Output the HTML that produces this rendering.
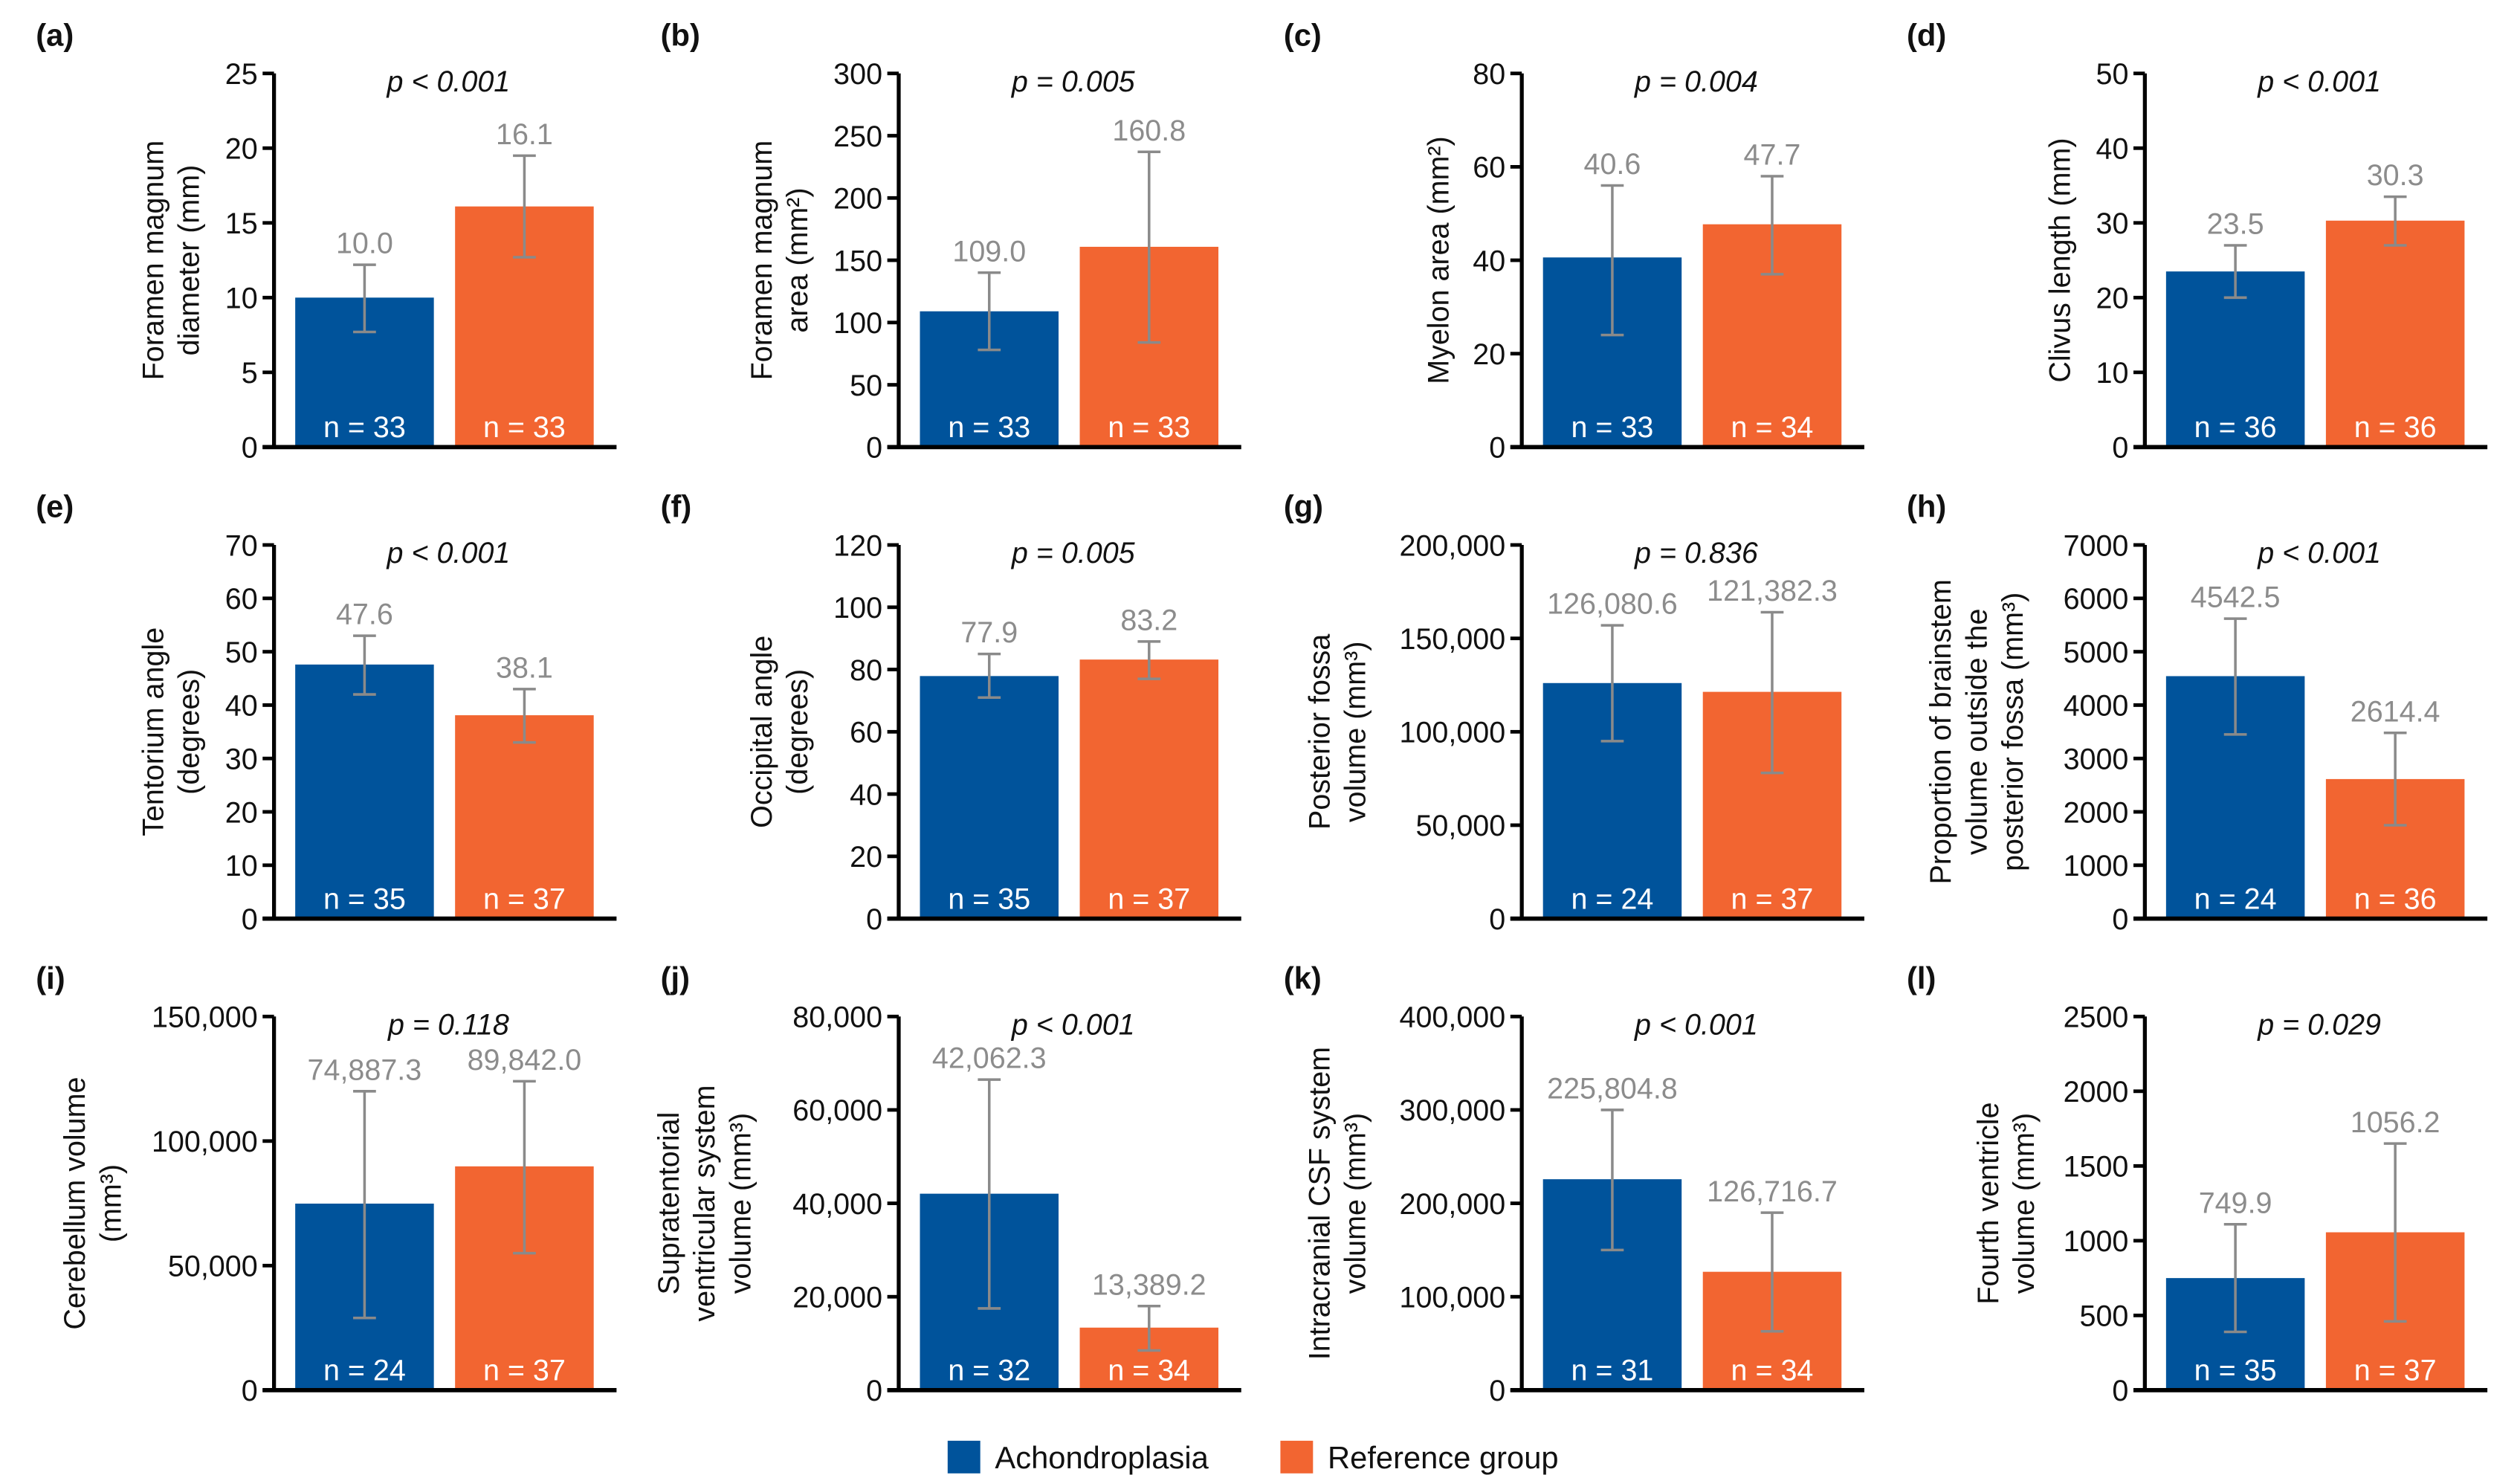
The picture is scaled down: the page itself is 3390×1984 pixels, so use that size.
<!DOCTYPE html>
<html><head><meta charset="utf-8">
<style>
html,body{margin:0;padding:0;background:#fff;}
svg{display:block;font-family:"Liberation Sans",Arial,sans-serif;}
</style></head>
<body>
<svg id="chart" width="3390" height="1984" viewBox="0 0 1545 904" preserveAspectRatio="none" xmlns="http://www.w3.org/2000/svg">
<rect x="0" y="0" width="1545" height="904" fill="#fff"/>
</svg>
<script>
const panelIds = ["a","b","c","d","e","f","g","h","i","j","k","l"];
const achValues = [10.0,109.0,40.6,23.5,47.6,77.9,126080.6,4542.5,74887.3,42062.3,225804.8,749.9];
const refValues = [16.1,160.8,47.7,30.3,38.1,83.2,121382.3,2614.4,89842.0,13389.2,126716.7,1056.2];
const achLow  = [7.7,78,24,20,42,71,95000,3450,29000,17500,150000,390];
const achHigh = [12.2,140,56,27,53,85,157000,5620,120000,66500,300000,1110];
const refLow  = [12.7,84,37,27,33,77,78000,1750,55000,8500,63000,460];
const refHigh = [19.5,237,58,33.5,43,89,164000,3480,124000,18000,190000,1650];
const achN = [33,33,33,36,35,35,24,24,24,32,31,35];
const refN = [33,33,34,36,37,37,37,36,37,34,34,37];
const pTexts = ["p < 0.001","p = 0.005","p = 0.004","p < 0.001","p < 0.001","p = 0.005","p = 0.836","p < 0.001","p = 0.118","p < 0.001","p < 0.001","p = 0.029"];
const yMaxes = [25,300,80,50,70,120,200000,7000,150000,80000,400000,2500];
const ySteps = [5,50,20,10,10,20,50000,1000,50000,20000,100000,500];
const useComma = [false,false,false,false,false,false,true,false,true,true,true,false];
const titles = [
 ["Foramen magnum","diameter (mm)"],
 ["Foramen magnum","area (mm²)"],
 ["Myelon area (mm²)"],
 ["Clivus length (mm)"],
 ["Tentorium angle","(degrees)"],
 ["Occipital angle","(degrees)"],
 ["Posterior fossa","volume (mm³)"],
 ["Proportion of brainstem","volume outside the","posterior fossa (mm³)"],
 ["Cerebellum volume","(mm³)"],
 ["Supratentorial","ventricular system","volume (mm³)"],
 ["Intracranial CSF system","volume (mm³)"],
 ["Fourth ventricle","volume (mm³)"]
];
const titleOffsets = [-75,-85,-52,-53,-75,-85,-125,-126,-123,-142,-125,-97];

const NS="http://www.w3.org/2000/svg";
const svg=document.getElementById("chart");
const BLUE="#00539B", ORANGE="#F26531", GRAY="#8c8c8c", EBAR="#8a8a8a";
const colX=[168,551,933,1315], rowTop=[45,334,623], rowZero=[274,563,852];
function mk(tag,attrs,parent){const e=document.createElementNS(NS,tag);for(const k in attrs)e.setAttribute(k,attrs[k]);(parent||svg).appendChild(e);return e;}
function fmt(v,comma,dec){let s=v.toFixed(dec);if(comma){const p=s.split(".");p[0]=p[0].replace(/\B(?=(\d{3})+(?!\d))/g,",");s=p.join(".");}return s;}

panelIds.forEach((id,i)=>{
  const ax=colX[i%4], top=rowTop[Math.floor(i/4)], zero=rowZero[Math.floor(i/4)];
  const g=mk("g",{});
  
  
  const yS=v=>zero-(v/yMaxes[i])*(zero-top);
  const lab=mk("text",{x:ax-146,y:top-17,"font-size":19,"font-weight":"bold",fill:"#111"},g);
  lab.textContent="("+id+")";
  
  
  const bars=[[achValues[i],achLow[i],achHigh[i],achN[i],BLUE,13,98,"ach"],[refValues[i],refLow[i],refHigh[i],refN[i],ORANGE,111,196,"ref"]];
  bars.forEach(b=>{
    const [v,lo,hi,n,col,x0,x1,key]=b;
    const r=mk("rect",{x:ax+x0,y:yS(v),width:x1-x0,height:zero-yS(v),fill:col},g);
    
    
    const cx=ax+(x0+x1)/2;
    const eb=mk("path",{d:`M${cx},${yS(lo)}V${yS(hi)}M${cx-7},${yS(lo)}H${cx+7}M${cx-7},${yS(hi)}H${cx+7}`,stroke:EBAR,"stroke-width":1.6,fill:"none"},g);
    
    
    const vt=mk("text",{x:cx,y:yS(hi)-7,"text-anchor":"middle","font-size":18,fill:GRAY},g);
    vt.textContent=fmt(v,useComma[i],1);
    
    
    const nt=mk("text",{x:cx,y:zero-6,"text-anchor":"middle","font-size":18,fill:"#fff"},g);
    nt.textContent="n = "+n;
    
    
  });
  const ya=mk("line",{x1:ax,y1:top,x2:ax,y2:zero,stroke:"#000","stroke-width":2.4},g);
  
  
  const xa=mk("line",{x1:ax-7,y1:zero,x2:ax+210,y2:zero,stroke:"#000","stroke-width":2.6},g);
  
  
  for(let t=0;t<=yMaxes[i]+1e-9;t+=ySteps[i]){
    const y=yS(t);
    const tk=mk("line",{x1:ax-7,y1:y,x2:ax,y2:y,stroke:"#000","stroke-width":2.2},g);
    
    
    const tl=mk("text",{x:ax-10,y:y+6.5,"text-anchor":"end","font-size":18,fill:"#111"},g);
    tl.textContent=fmt(t,useComma[i],0);
    
    
  }
  const pt=mk("text",{x:ax+107,y:top+11,"text-anchor":"middle","font-size":18,"font-style":"italic",fill:"#111"},g);
  pt.textContent=pTexts[i];
  
  
  const lines=titles[i], cy=(top+zero)/2;
  lines.forEach((ln,k)=>{
    const x=ax+titleOffsets[i]+k*22;
    const tt=mk("text",{x:0,y:0,transform:`translate(${x+7},${cy}) rotate(-90)`,"text-anchor":"middle","font-size":18,fill:"#111"},g);
    tt.textContent=ln;
    
    
  });
});
const lg=mk("g",{});


const legendLabels=["Achondroplasia","Reference group"];
const legendColors=[BLUE,ORANGE];
const legendX=[581,785];
legendLabels.forEach((t,k)=>{
  const sw=mk("rect",{x:legendX[k],y:883,width:20,height:20,fill:legendColors[k]},lg);
  
  
  const tx=mk("text",{x:legendX[k]+29,y:900,"font-size":19,fill:"#111"},lg);
  tx.textContent=t;
  
  
});
</script>
</body></html>
